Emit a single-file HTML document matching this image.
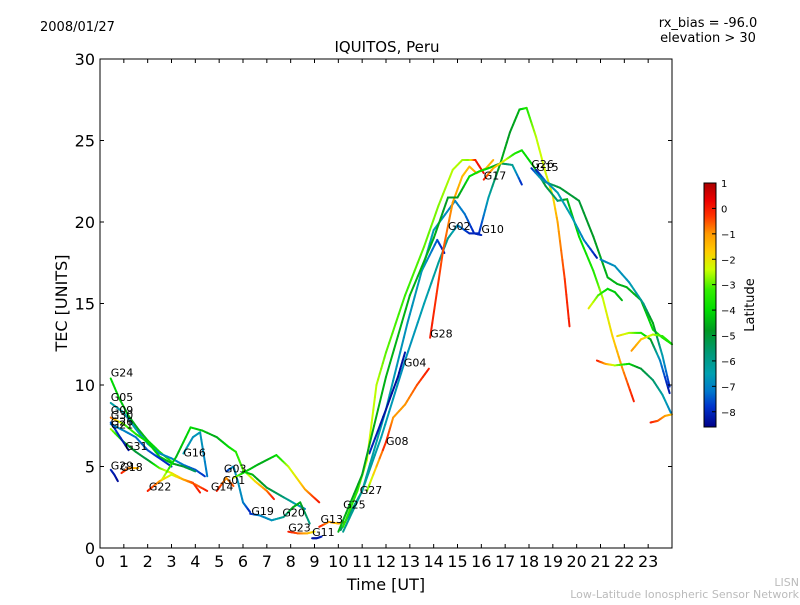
<!DOCTYPE html>
<html><head><meta charset="utf-8"><style>
body{margin:0;background:#fff;font-family:"Liberation Sans","DejaVu Sans",sans-serif}
svg text{font-family:"DejaVu Sans","Liberation Sans",sans-serif}
</style></head><body>
<svg id="c" width="800" height="600" xmlns="http://www.w3.org/2000/svg">
<defs><linearGradient id="cb" x1="0" y1="1" x2="0" y2="0"></linearGradient></defs>
<g id="marks"></g>
<rect x="100" y="59" width="572" height="489" fill="none" stroke="#000" stroke-width="1"/>
<g id="axes"></g>
<text x="40" y="31" font-size="13">2008/01/27</text>
<text x="708" y="27" font-size="13" text-anchor="middle">rx_bias = -96.0</text>
<text x="708" y="42" font-size="13" text-anchor="middle">elevation &gt; 30</text>
<text x="387" y="52" font-size="15" text-anchor="middle">IQUITOS, Peru</text>
<text x="386" y="590" font-size="16" text-anchor="middle">Time [UT]</text>
<text transform="translate(67,303) rotate(-90)" font-size="16" text-anchor="middle">TEC [UNITS]</text>
<rect x="704" y="183" width="12" height="244" fill="url(#cb)" stroke="#000" stroke-width="1"/>
<g id="cbticks"></g>
<text transform="translate(754,305) rotate(-90)" font-size="13" text-anchor="middle">Latitude</text>
<text x="799" y="586" font-size="11" fill="#bbb" text-anchor="end">LISN</text>
<text x="799" y="598" font-size="11" fill="#bbb" text-anchor="end">Low-Latitude Ionospheric Sensor Network</text>
</svg>
<script>
const xTicks=[0,1,2,3,4,5,6,7,8,9,10,11,12,13,14,15,16,17,18,19,20,21,22,23];
const yTicks=[0,5,10,15,20,25,30];
const cbTicks=[1,0,-1,-2,-3,-4,-5,-6,-7,-8];
const latMin=-8.6, latMax=1;
// traces: time (UT), TEC, latitude
const traces=[
{id:'G24',t:[0.45,0.8,1.2,1.6,2.0,2.5,3.0],v:[10.4,9.2,8.1,7.3,6.6,5.9,5.3],lat:[-4,-4.2,-4.5,-4.6,-4.3,-3.8,-3.5]},
{id:'G05',t:[0.45,1.0,1.5,2.0,2.5,3.0,3.5,4.0,4.4],v:[8.9,8.3,7.3,6.4,5.8,5.5,5.1,4.8,4.4],lat:[-6.3,-6.5,-6.6,-6.7,-6.8,-7,-7.2,-7.5,-7.8]},
{id:'G09',t:[0.45,1.0,1.5,2.0,2.5,3.0,3.5,4.0],v:[8.0,7.6,7.0,6.5,5.6,5.2,5.0,4.7],lat:[-0.5,-3,-3.5,-4,-4.2,-4.5,-5,-5.5]},
{id:'G30',t:[0.45,1.0,1.5,2.0,2.5,3.0],v:[7.6,7.2,6.8,6.0,5.5,5.0],lat:[-6.8,-7,-7.2,-7.5,-7.8,-8]},
{id:'G21',t:[0.45,1.0,1.5,2.0,2.5,3.0,3.5,4.0,4.5],v:[7.3,6.5,5.9,5.4,4.9,4.6,4.2,3.9,3.5],lat:[-2.5,-4.5,-5,-5.2,-3,-2,-1.5,-0.8,0]},
{id:'G31',t:[0.45,0.8,1.2],v:[7.7,6.9,6.0],lat:[-7.5,-8,-8.3]},
{id:'G29',t:[0.45,0.6,0.75],v:[4.8,4.5,4.1],lat:[-8,-8.2,-8.4]},
{id:'G18',t:[0.9,1.2,1.6],v:[4.6,4.9,4.9],lat:[0,-0.8,-1.5]},
{id:'G22',t:[2.0,2.5,3.0,3.5,3.9,4.2],v:[3.5,4.1,4.5,4.2,4.0,3.4],lat:[0,-1,-2.5,-1.2,-0.5,0]},
{id:'A1',t:[2.6,3.2,3.8,4.3,4.9,5.4,5.7,6.0,6.5,7.0,7.3],v:[4.2,5.6,7.4,7.2,6.8,6.2,5.9,4.8,4.1,3.5,3.0],lat:[-2,-4.5,-4,-4.3,-4.6,-4,-3.5,-3,-2,-0.8,0]},
{id:'G16',t:[3.5,3.9,4.2,4.5],v:[5.8,6.8,7.1,4.4],lat:[-6.5,-6.8,-6.6,-7.2]},
{id:'G03',t:[5.3,5.6,5.8,6.0,6.3],v:[4.7,5.0,4.0,2.8,2.2],lat:[-8,-6.8,-6.7,-7,-8]},
{id:'G14',t:[4.9,5.3,5.6],v:[3.5,4.3,3.8],lat:[0,-1,-0.5]},
{id:'G01',t:[5.6,6.0,6.6,7.0,7.4,7.9,8.3,8.6,8.9,9.2],v:[4.3,4.6,5.1,5.4,5.7,5.0,4.2,3.6,3.2,2.8],lat:[-2,-4,-4.5,-4.6,-4,-2.5,-2,-1.2,-0.5,0]},
{id:'A2',t:[6.0,6.4,7.0,7.6,8.2,8.6],v:[4.7,4.5,3.7,3.2,2.7,2.4],lat:[-4,-4.5,-5,-5.5,-6.5,-7]},
{id:'G19',t:[6.3,6.7,7.2,7.7,8.1,8.4,8.8],v:[2.1,2.0,1.7,1.9,2.5,2.8,1.5],lat:[-8,-7,-6.8,-6,-4.6,-4.5,-6]},
{id:'G23',t:[7.9,8.3,8.7,9.0],v:[1.0,0.9,0.9,1.0],lat:[0,-0.5,-1.3,-2]},
{id:'G11',t:[8.9,9.1,9.3],v:[0.6,0.6,0.7],lat:[-8.2,-8.3,-8.1]},
{id:'G13',t:[9.2,9.6,10.0,10.3],v:[1.3,1.6,1.5,1.6],lat:[0,-1,-1.5,0]},
{id:'G10',t:[10.1,11.0,11.8,12.8,13.6,14.2,14.6,15.0,15.5,15.9,16.3,16.8,17.2,17.6,17.9,18.3,18.7,19.0,19.2,19.5,19.7],v:[1.1,3.5,6.8,11.5,15.0,17.5,19.0,19.8,19.3,19.3,21.5,23.6,25.5,26.9,27.0,25.2,23.0,21.6,20.0,16.5,13.6],lat:[-5.5,-6,-6.5,-6.8,-6.5,-6.2,-6,-6.8,-8,-8,-6.5,-4.5,-4.8,-4.5,-3.5,-2.5,-2.3,-2,-1.2,-0.3,0]},
{id:'G02',t:[10.2,11.0,12.0,12.9,13.5,14.0,14.4,14.9,15.3,15.7,16.0],v:[1.0,3.5,8.5,13.8,17.0,19.5,20.3,21.3,20.5,19.3,19.2],lat:[-6,-6.2,-6.5,-6.8,-6.6,-6.5,-6.8,-7,-7.2,-8,-8]},
{id:'G04',t:[11.3,12.0,12.5,12.8],v:[5.8,8.5,10.5,12.0],lat:[-8,-8.3,-8.4,-8.2]},
{id:'A3',t:[13.5,14.15,14.45],v:[17.0,18.9,18.1],lat:[-6.5,-7.5,-8.2]},
{id:'G28',t:[13.85,14.4,14.8,15.2,15.5,15.8,16.2,16.5],v:[12.9,18.3,21.2,22.8,23.4,23.0,23.3,23.8],lat:[0,-0.5,-1,-1.5,-1.5,-1.2,-1.5,-1.3]},
{id:'A4',t:[10.2,10.8,11.2,11.6,12.0,12.8,13.6,14.2,14.8,15.2,15.5,15.75,16.1],v:[1.3,3.5,5.4,10,12,15.5,18.5,21,23.2,23.8,23.8,23.8,23.0],lat:[-3.5,-3.3,-2.3,-2.5,-3,-3.2,-3,-2.8,-2.5,-2.6,-2.8,0,0.2]},
{id:'A5',t:[10.0,11.0,12.0,13.0,14.0,14.6,15.0,15.5,15.9,16.3,16.8,17.3,17.7],v:[1.0,4.5,10.5,15.5,19.0,21.5,21.5,22.8,23.1,23.3,23.6,23.5,22.3],lat:[-4.5,-4.7,-4.5,-4.5,-4.5,-4.8,-4.8,-4,-3.8,-4,-5,-6,-8]},
{id:'G08',t:[11.2,12.0,12.3,12.8,13.3,13.8],v:[3.5,6.5,8.0,8.8,10.0,11.0],lat:[-3,0,-1,-1,-0.5,0]},
{id:'G17',t:[16.1,16.5,17.0,17.4,17.7,18.2,18.7,19.2,19.6,20.1,20.7,21.1,21.5,21.9,22.4],v:[22.6,23.3,23.8,24.2,24.4,23.4,22.2,21.3,21.4,19.1,17.0,15.3,13.0,11.1,9.0],lat:[0,-1.3,-2.3,-3.5,-3.8,-4.2,-5,-5.8,-4.5,-4,-3.6,-2.5,-1.8,-1,0]},
{id:'G26',t:[18.1,18.6,19.3,20.1,20.7,21.3,21.7,22.1,22.7,23.2,23.6,24.0],v:[23.3,22.5,22.1,21.3,19.1,16.6,16.2,16.0,15.2,13.4,12.9,12.5],lat:[-8,-6,-5,-5,-4.8,-4.5,-4.5,-4.5,-4.5,-4,-3.5,-3.5]},
{id:'G15',t:[18.3,18.7,19.2,19.8,20.3,20.85],v:[23.2,22.5,21.8,20.3,18.9,17.8],lat:[-8.2,-7,-6.5,-6.5,-7,-8.2]},
{id:'A6',t:[21.0,21.6,22.2,22.8,23.2,23.6,23.9],v:[17.7,17.3,16.3,15.0,13.8,11.8,9.9],lat:[-7,-6.8,-6.7,-6,-4.5,-6.5,-8]},
{id:'A7',t:[20.5,20.9,21.3,21.6,21.9],v:[14.7,15.5,15.9,15.7,15.2],lat:[-2,-3,-4,-4.2,-4.5]},
{id:'A8',t:[21.7,22.2,22.7,23.1,23.5,23.9],v:[13.0,13.2,13.2,12.8,11.5,9.5],lat:[-1.8,-2.5,-3.5,-4.5,-7,-8.3]},
{id:'A9',t:[22.3,22.7,23.2,23.6,24.0],v:[12.1,12.8,13.1,13.0,12.5],lat:[-1,-1.5,-2.5,-3.3,-3.8]},
{id:'A10',t:[20.85,21.2,21.6,22.2,22.7,23.2,23.6,23.95],v:[11.5,11.3,11.2,11.3,11.0,10.3,9.4,8.3],lat:[0,-1,-2.5,-4,-5,-5.5,-6.3,-7]},
{id:'A11',t:[23.1,23.4,23.7,24.0],v:[7.7,7.8,8.1,8.2],lat:[0,-0.5,-1,-1.5]},
];
const labels=['G24','G05','G09','G30','G26','G21','G31','G29','G18','G22','G16','G03','G01','G14','G19','G20','G23','G11','G13','G25','G27','G08','G04','G28','G02','G10','G17','G26','G15'];
const labelT=[0.45,0.45,0.45,0.45,0.45,0.45,1.05,0.45,0.85,2.05,3.5,5.2,5.15,4.65,6.35,7.65,7.9,8.9,9.25,10.2,10.9,12.0,12.75,13.85,14.6,16.0,16.1,18.1,18.3];
const labelV=[10.4,8.9,8.1,7.8,7.4,7.2,5.9,4.7,4.6,3.4,5.5,4.5,3.8,3.4,1.9,1.8,0.9,0.6,1.4,2.3,3.2,6.2,11.0,12.8,19.4,19.2,22.5,23.2,23.0];

const X=t=>100+t*572/24, Y=v=>548-v*489/30;
const stops=[[1,'#aa0000'],[0.3,'#ee0000'],[-0.3,'#ff3300'],[-1,'#ff9900'],[-1.7,'#ffcc00'],[-2.4,'#ccff00'],[-3.2,'#33ee00'],[-4,'#00dd00'],[-4.8,'#009922'],[-5.7,'#009977'],[-6.5,'#00a0b0'],[-7.2,'#0077cc'],[-7.8,'#0033cc'],[-8.6,'#000088']];
function hex(h){return [1,3,5].map(i=>parseInt(h.substr(i,2),16));}
function col(l){l=Math.max(latMin,Math.min(latMax,l));for(let i=0;i<stops.length-1;i++){const[a,ca]=stops[i],[b,cb]=stops[i+1];if(l<=a&&l>=b){const f=(a-l)/(a-b),A=hex(ca),B=hex(cb);return 'rgb('+A.map((x,k)=>Math.round(x+(B[k]-x)*f)).join(',')+')';}}return stops[0][1];}
const NS='http://www.w3.org/2000/svg';
function mk(tag,at,parent){const e=document.createElementNS(NS,tag);for(const k in at)e.setAttribute(k,at[k]);parent.appendChild(e);return e;}
const marks=document.getElementById('marks');
traces.forEach(tr=>{
  const g=mk('g',{},marks);
  
  
  for(let i=0;i<tr.t.length-1;i++){
    const n=6;
    for(let k=0;k<n;k++){
      const f0=k/n,f1=(k+1)/n;
      const t0=tr.t[i]+(tr.t[i+1]-tr.t[i])*f0,t1=tr.t[i]+(tr.t[i+1]-tr.t[i])*f1;
      const v0=tr.v[i]+(tr.v[i+1]-tr.v[i])*f0,v1=tr.v[i]+(tr.v[i+1]-tr.v[i])*f1;
      const l=tr.lat[i]+(tr.lat[i+1]-tr.lat[i])*(f0+f1)/2;
      const s=mk('line',{x1:X(t0),y1:Y(v0),x2:X(t1),y2:Y(v1),stroke:col(l),'stroke-width':2,'stroke-linecap':'round'},g);
      
      
    }
  }
});
labels.forEach((s,i)=>{
  const e=mk('text',{x:X(labelT[i]),y:Y(labelV[i])-2,'font-size':11},marks);
  e.textContent=s;
  
  
});
const ax=document.getElementById('axes');
xTicks.forEach(t=>{
  mk('line',{x1:X(t),y1:548,x2:X(t),y2:544,stroke:'#000'},ax);
  mk('line',{x1:X(t),y1:59,x2:X(t),y2:63,stroke:'#000'},ax);
  const e=mk('text',{x:X(t),y:567,'font-size':16,'text-anchor':'middle'},ax);
  e.textContent=t;
  
  
});
yTicks.forEach(v=>{
  mk('line',{x1:100,y1:Y(v),x2:104,y2:Y(v),stroke:'#000'},ax);
  mk('line',{x1:672,y1:Y(v),x2:668,y2:Y(v),stroke:'#000'},ax);
  const e=mk('text',{x:95,y:Y(v)+6,'font-size':16,'text-anchor':'end'},ax);
  e.textContent=v;
  
  
});
const grad=document.getElementById('cb');
stops.slice().reverse().forEach(([l,c])=>mk('stop',{offset:((l-latMin)/(latMax-latMin)),'stop-color':c},grad));
const cbt=document.getElementById('cbticks');
const CY=l=>427-(l-latMin)*244/(latMax-latMin);
cbTicks.forEach(l=>{
  mk('line',{x1:716,y1:CY(l),x2:712,y2:CY(l),stroke:'#000'},cbt);
  const e=mk('text',{x:721,y:CY(l)+4,'font-size':10},cbt);
  e.textContent=l<0?'\u2212'+(-l):l;
  
  
});
</script>
</body></html>
